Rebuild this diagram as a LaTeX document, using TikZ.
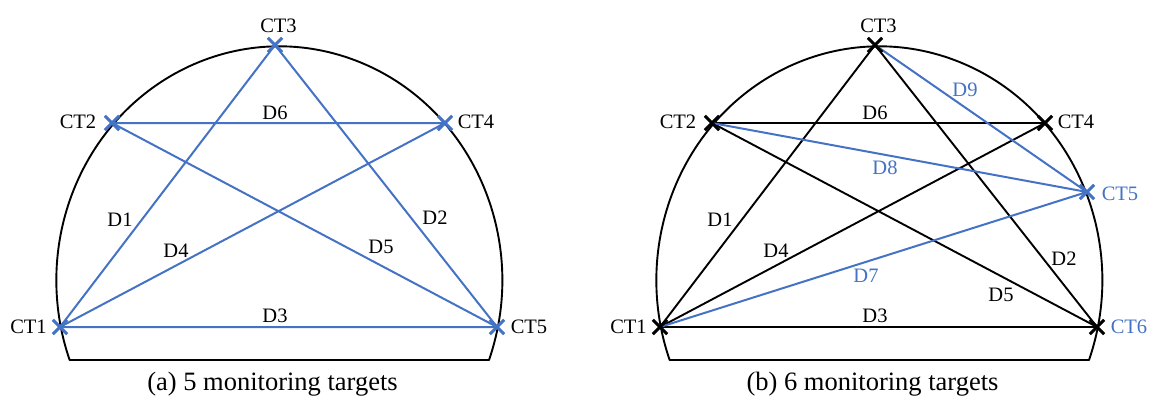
\documentclass[tikz,border=0pt]{standalone}
\usepackage{fontspec}
\setmainfont{Liberation Serif}
\usetikzlibrary{calc}
\definecolor{tblue}{RGB}{68,114,196}
\tikzset{
  hull/.style={draw=black,line width=1.9pt,line join=round},
  blk/.style={draw=black,line width=1.9pt},
  blu/.style={draw=tblue,line width=2pt},
  lab/.style={inner sep=0pt,font=\fontsize{20.5}{21}\selectfont,text=black},
  bl/.style={lab,text=tblue},
  capt/.style={inner sep=0pt,font=\fontsize{26.5}{27}\selectfont,anchor=base},
  xmk/.style={line width=2.9pt}
}
\newcommand{\xmark}[2]{\draw[xmk,#2] ($(#1)+(-7.2,-7.2)$) -- ($(#1)+(7.2,7.2)$) ($(#1)+(-7.2,7.2)$) -- ($(#1)+(7.2,-7.2)$);}
\begin{document}
\begin{tikzpicture}[x=1pt,y=-1pt]
\useasboundingbox (0,0) rectangle (1150,396);
% panel a
\coordinate (a1) at (60,327);
\coordinate (a2) at (112,123);
\coordinate (a3) at (275,45);
\coordinate (a4) at (445,123);
\coordinate (a5) at (497,327);
\coordinate (ab1) at (70,360);
\coordinate (ab2) at (489,360);
\draw[hull] (ab1) -- (ab2) arc[start angle=-19.9,end angle=199.9,x radius=223,y radius=-234] -- cycle;
\draw[blu] (a1) -- (a3) (a3) -- (a5) (a1) -- (a5) (a1) -- (a4) (a2) -- (a5) (a2) -- (a4);
\foreach \p in {a1,a2,a3,a4,a5} {\xmark{\p}{tblue}}
\node[lab] (ta1) at (28.5,327) {CT1};
\node[lab] (ta2) at (78,122) {CT2};
\node[lab] (ta3) at (278.5,26) {CT3};
\node[lab] (ta4) at (476,122) {CT4};
\node[lab] (ta5) at (529,327) {CT5};
\node[lab] (da1) at (120,220) {D1};
\node[lab] (da2) at (435,218) {D2};
\node[lab] (da3) at (275,316) {D3};
\node[lab] (da4) at (176,251) {D4};
\node[lab] (da5) at (381,247) {D5};
\node[lab] (da6) at (275,113) {D6};
\node[capt] (ca) at (272.5,390) {(a) 5 monitoring targets};
% panel b
\coordinate (b1) at (660,327);
\coordinate (b2) at (712,123);
\coordinate (b3) at (875,45);
\coordinate (b4) at (1045,123);
\coordinate (b5) at (1087,192);
\coordinate (b6) at (1097,327);
\coordinate (bb1) at (670,360);
\coordinate (bb2) at (1089,360);
\draw[hull] (bb1) -- (bb2) arc[start angle=-19.9,end angle=199.9,x radius=223,y radius=-234] -- cycle;
\draw[blk] (b1) -- (b3) (b3) -- (b6) (b1) -- (b6) (b1) -- (b4) (b2) -- (b6) (b2) -- (b4);
\draw[blu] (b1) -- (b5) (b2) -- (b5) (b3) -- (b5);
\foreach \p in {b1,b2,b3,b4,b6} {\xmark{\p}{black}}
\xmark{b5}{tblue}
\node[lab] (tb1) at (628.5,327) {CT1};
\node[lab] (tb2) at (678,122) {CT2};
\node[lab] (tb3) at (878.5,26) {CT3};
\node[lab] (tb4) at (1076,122) {CT4};
\node[bl] (tb5) at (1120,194) {CT5};
\node[bl] (tb6) at (1129,327) {CT6};
\node[lab] (db1) at (720,220) {D1};
\node[lab] (db2) at (1064,259) {D2};
\node[lab] (db3) at (875,316) {D3};
\node[lab] (db4) at (776,251) {D4};
\node[lab] (db5) at (1001,295) {D5};
\node[lab] (db6) at (875,113) {D6};
\node[bl] (db7) at (866,276) {D7};
\node[bl] (db8) at (885,168) {D8};
\node[bl] (db9) at (965,90) {D9};
\node[capt] (cb) at (872.5,390) {(b) 6 monitoring targets};
\end{tikzpicture}
\end{document}
